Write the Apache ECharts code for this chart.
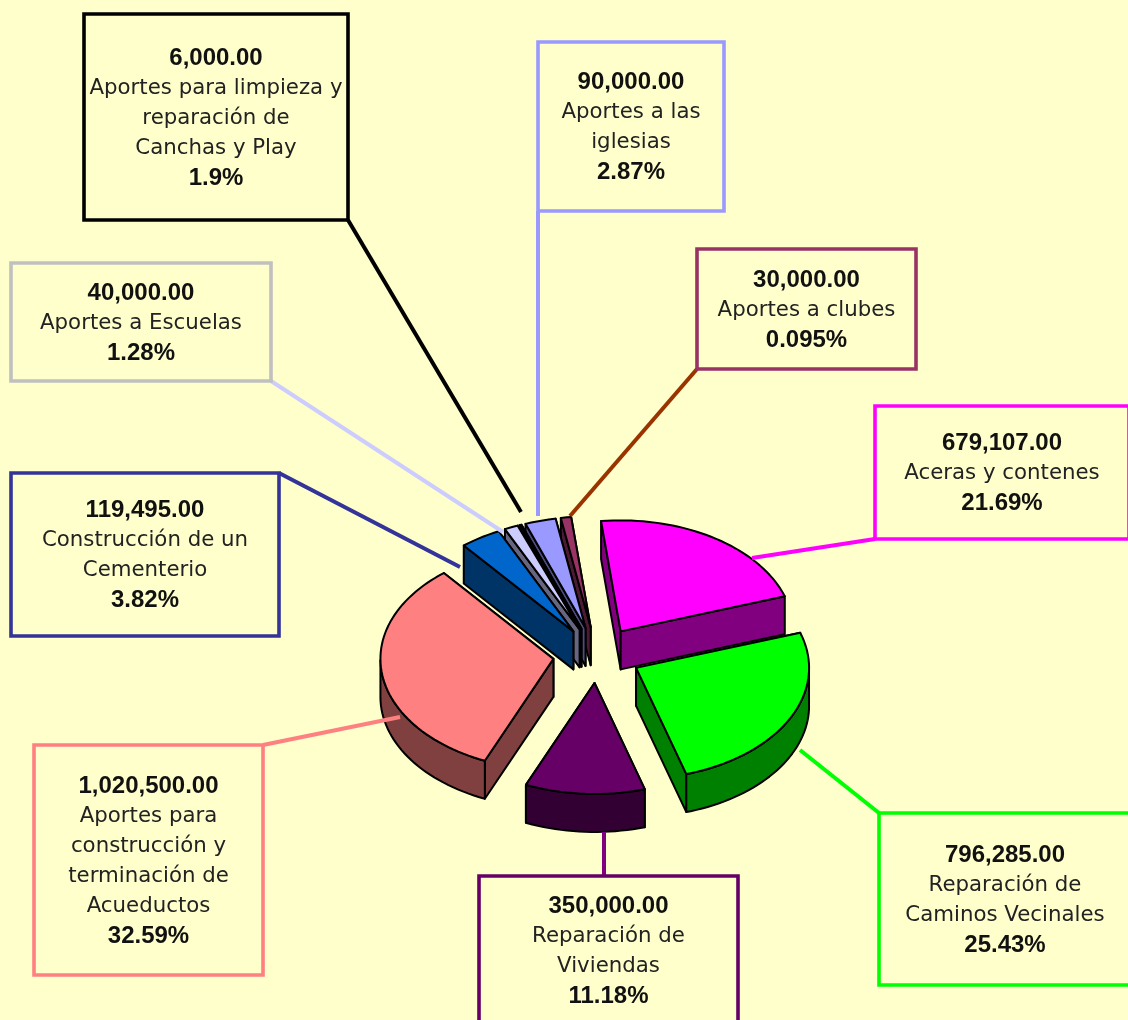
<!DOCTYPE html>
<html lang="es">
<head>
<meta charset="utf-8">
<title>Aportes</title>
<script src="https://cdn.jsdelivr.net/npm/echarts@6/dist/echarts.min.js"></script>
<style>html,body{margin:0;padding:0;background:#FFFFCC;overflow:hidden}#c{width:1128px;height:1020px}</style>
</head>
<body>
<div id="c"></div>
<script>
// ---- data ----
var categories = [
  'Aceras y contenes',
  'Reparación de\nCaminos Vecinales',
  'Reparación de\nViviendas',
  'Aportes para\nconstrucción y\nterminación de\nAcueductos',
  'Construcción de un\nCementerio',
  'Aportes a Escuelas',
  'Aportes para limpieza y\nreparación de\nCanchas y Play',
  'Aportes a las\niglesias',
  'Aportes a clubes'
];
var values = [679107, 796285, 350000, 1020500, 119495, 40000, 6000, 90000, 30000];
var percentLabels = ['21.69%', '25.43%', '11.18%', '32.59%', '3.82%', '1.28%', '1.9%', '2.87%', '0.095%'];

// ---- styles ----
var topColors  = ['#FF00FF', '#00FF00', '#660066', '#FF8080', '#0066CC', '#CCCCFF', '#000080', '#9999FF', '#993366'];
var sideColors = ['#800080', '#008000', '#330033', '#804040', '#003366', '#666680', '#000040', '#4D4D80', '#4D1A33'];
var boxColors  = ['#FF00FF', '#00FF00', '#660066', '#FF8080', '#333399', '#C0C0C0', '#000000', '#9999FF', '#993366'];
var leaderColors = ['#FF00FF', '#00FF00', '#800080', '#FF8080', '#333399', '#CCCCFF', '#000000', '#9999FF', '#993300'];

// ---- layout ----
var PIE = { cx: 597, cy: 655, rx: 173, ry: 111, depth: 38, exX: 44, exY: 28, startDeg: -6.5 };
// box: [left, top, right, bottom]; leader: [x0, y0, x1, y1]
var boxes = [
  [875, 406, 1129, 539], [879, 813, 1131, 985], [479, 876, 738, 1024],
  [34, 745, 263, 975], [11, 473, 279, 636], [11, 263, 271, 381],
  [84, 14, 348, 220], [538, 42, 724, 211], [697, 249, 916, 369]
];
var leaders = [
  [875, 539, 752, 558], [879, 813, 800, 750], [604, 876, 604, 832],
  [263, 745, 400, 717], [279, 473, 460, 567], [271, 381, 503, 532],
  [348, 220, 521, 512], [538, 211, 538, 516], [697, 369, 570, 516]
];

var total = values.reduce(function (a, b) { return a + b; }, 0);
var spans = [];
(function () {
  var a = PIE.startDeg;
  values.forEach(function (v) { var b = a + v / total * 360; spans.push([a, b]); a = b; });
})();
function rad(d) { return d * Math.PI / 180; }
function apex(i) {
  var m = rad((spans[i][0] + spans[i][1]) / 2);
  return [PIE.cx + PIE.exX * Math.sin(m), PIE.cy - PIE.exY * Math.cos(m)];
}
function rim(c, deg) {
  return [c[0] + PIE.rx * Math.sin(rad(deg)), c[1] - PIE.ry * Math.cos(rad(deg))];
}
function down(p) { return [p[0], p[1] + PIE.depth]; }
// painter's order: farther apexes first
var rank = {};
values.map(function (_, i) { return i; })
  .sort(function (a, b) { return apex(a)[1] - apex(b)[1]; })
  .forEach(function (i, r) { rank[i] = r; });

function poly(points, fill, z2) {
  return { type: 'polygon', shape: { points: points }, z2: z2,
    style: { fill: fill, stroke: '#000', lineWidth: 2, lineJoin: 'round' } };
}
function renderSlice(params, api) {
  var i = params.dataIndex;
  var a0 = spans[i][0], a1 = spans[i][1];
  var c = apex(i), base = rank[i] * 10;
  var arc = [], d;
  for (d = a0; d < a1; d += 2) arc.push(rim(c, d));
  arc.push(rim(c, a1));
  var first = arc[0], last = arc[arc.length - 1];
  var faces = [first, last].sort(function (p, q) { return p[1] - q[1]; });
  var kids = [];
  faces.forEach(function (p, k) {
    kids.push(poly([c, p, down(p), down(c)], sideColors[i], base + k));
  });
  // outer wall: only the part of the rim that faces the viewer
  var wall = [];
  for (d = a0; d <= a1; d += 2) if (Math.cos(rad(d)) <= 0) wall.push(rim(c, d));
  if (Math.cos(rad(a1)) <= 0) wall.push(last);
  if (wall.length > 1) {
    kids.push(poly(wall.concat(wall.slice().reverse().map(down)), sideColors[i], base + 2));
  }
  kids.push(poly([c].concat(arc), topColors[i], base + 3));
  return { type: 'group', children: kids };
}
function labelText(i) {
  var amount = values[i].toLocaleString('en-US', { minimumFractionDigits: 2, maximumFractionDigits: 2 });
  var lines = ['{b|' + amount + '}'];
  categories[i].split('\n').forEach(function (s) { lines.push('{n|' + s + '}'); });
  lines.push('{b|' + percentLabels[i] + '}');
  return lines.join('\n');
}
function renderCallout(params, api) {
  var i = params.dataIndex, b = boxes[i], l = leaders[i];
  return { type: 'group', children: [
    { type: 'line', shape: { x1: l[0], y1: l[1], x2: l[2], y2: l[3] },
      style: { stroke: leaderColors[i], lineWidth: 4 } },
    { type: 'rect', shape: { x: b[0], y: b[1], width: b[2] - b[0], height: b[3] - b[1] },
      style: { fill: 'transparent', stroke: boxColors[i], lineWidth: 3.6 } },
    { type: 'text', x: (b[0] + b[2]) / 2, y: (b[1] + b[3]) / 2 + 1,
      style: { text: labelText(i), align: 'center', verticalAlign: 'middle',
        rich: {
          b: { fontFamily: '"Liberation Sans", Arial, sans-serif', fontSize: 24, fontWeight: 'bold', lineHeight: 30, fill: '#111', align: 'center' },
          n: { fontFamily: '"DejaVu Sans", Verdana, sans-serif', fontSize: 21.3, fontWeight: 'normal', lineHeight: 30, fill: '#222', align: 'center' }
        } } }
  ] };
}
var chart = echarts.init(document.getElementById('c'), null, { renderer: 'canvas' });
chart.setOption({
  animation: false,
  backgroundColor: '#FFFFCC',
  series: [
    { type: 'custom', name: 'pie', coordinateSystem: 'none', z: 2, silent: true,
      data: values, renderItem: renderSlice },
    { type: 'custom', name: 'callouts', coordinateSystem: 'none', z: 3, silent: true,
      data: values, renderItem: renderCallout }
  ]
});
</script>
</body>
</html>
